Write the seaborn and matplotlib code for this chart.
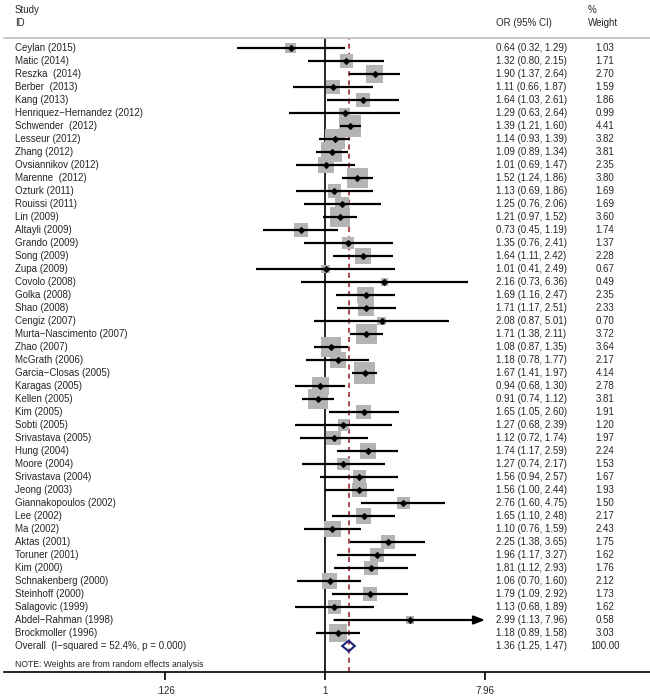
"""
forest plot of pooled odds ratios (random effects)
"""
import numpy as np
import pandas as pd
import seaborn as sns
import matplotlib.pyplot as plt
from matplotlib.ticker import NullLocator
from matplotlib.transforms import blended_transform_factory

sns.set_style("white")
plt.rcParams["font.family"] = ["Liberation Sans", "DejaVu Sans"]

studies = [
    "Ceylan (2015)", "Matic (2014)", "Reszka  (2014)", "Berber  (2013)", "Kang (2013)",
    "Henriquez\u2212Hernandez (2012)", "Schwender  (2012)", "Lesseur (2012)", "Zhang (2012)",
    "Ovsiannikov (2012)", "Marenne  (2012)", "Ozturk (2011)", "Rouissi (2011)", "Lin (2009)",
    "Altayli (2009)", "Grando (2009)", "Song (2009)", "Zupa (2009)", "Covolo (2008)",
    "Golka (2008)", "Shao (2008)", "Cengiz (2007)", "Murta\u2212Nascimento (2007)", "Zhao (2007)",
    "McGrath (2006)", "Garcia\u2212Closas (2005)", "Karagas (2005)", "Kellen (2005)", "Kim (2005)",
    "Sobti (2005)", "Srivastava (2005)", "Hung (2004)", "Moore (2004)", "Srivastava (2004)",
    "Jeong (2003)", "Giannakopoulos (2002)", "Lee (2002)", "Ma (2002)", "Aktas (2001)",
    "Toruner (2001)", "Kim (2000)", "Schnakenberg (2000)", "Steinhoff (2000)",
    "Salagovic (1999)", "Abdel\u2212Rahman (1998)", "Brockmoller (1996)",
]
odds = [0.64, 1.32, 1.90, 1.11, 1.64, 1.29, 1.39, 1.14, 1.09, 1.01, 1.52, 1.13, 1.25, 1.21,
        0.73, 1.35, 1.64, 1.01, 2.16, 1.69, 1.71, 2.08, 1.71, 1.08, 1.18, 1.67, 0.94, 0.91,
        1.65, 1.27, 1.12, 1.74, 1.27, 1.56, 1.56, 2.76, 1.65, 1.10, 2.25, 1.96, 1.81, 1.06,
        1.79, 1.13, 2.99, 1.18]
lower = [0.32, 0.80, 1.37, 0.66, 1.03, 0.63, 1.21, 0.93, 0.89, 0.69, 1.24, 0.69, 0.76, 0.97,
         0.45, 0.76, 1.11, 0.41, 0.73, 1.16, 1.17, 0.87, 1.38, 0.87, 0.78, 1.41, 0.68, 0.74,
         1.05, 0.68, 0.72, 1.17, 0.74, 0.94, 1.00, 1.60, 1.10, 0.76, 1.38, 1.17, 1.12, 0.70,
         1.09, 0.68, 1.13, 0.89]
upper = [1.29, 2.15, 2.64, 1.87, 2.61, 2.64, 1.60, 1.39, 1.34, 1.47, 1.86, 1.86, 2.06, 1.52,
         1.19, 2.41, 2.42, 2.49, 6.36, 2.47, 2.51, 5.01, 2.11, 1.35, 1.77, 1.97, 1.30, 1.12,
         2.60, 2.39, 1.74, 2.59, 2.17, 2.57, 2.44, 4.75, 2.48, 1.59, 3.65, 3.27, 2.93, 1.60,
         2.92, 1.89, 7.96, 1.58]
weights = [1.03, 1.71, 2.70, 1.59, 1.86, 0.99, 4.41, 3.82, 3.81, 2.35, 3.80, 1.69, 1.69, 3.60,
           1.74, 1.37, 2.28, 0.67, 0.49, 2.35, 2.33, 0.70, 3.72, 3.64, 2.17, 4.14, 2.78, 3.81,
           1.91, 1.20, 1.97, 2.24, 1.53, 1.67, 1.93, 1.50, 2.17, 2.43, 1.75, 1.62, 1.76, 2.12,
           1.73, 1.62, 0.58, 3.03]

overall_label = "Overall  (I\u2212squared = 52.4%, p = 0.000)"
overall_or, overall_lo, overall_hi = 1.36, 1.25, 1.47
overall_weight = 100.00

xticks = [0.126, 1, 7.96]
xtick_labels = [".126", "1", "7.96"]

df = pd.DataFrame({"study": studies, "OR": odds, "lo": lower, "hi": upper, "weight": weights})
df["row"] = np.arange(len(df))
n = len(df)

W, H = 650, 699
FS = 7
fig = plt.figure(figsize=(W / 100, H / 100), dpi=100)
ax = fig.add_axes([4 / W, 1 - 672 / H, 646 / W, (672 - 38) / H])
ax.set_xscale("log")
ax.set_xlim(0.01562, 67.4)
ax.set_ylim(n + 2, -0.77)

# reference lines
ax.axvline(1, color="k", lw=1.2, zorder=1)
ax.axvline(overall_or, color="#a3282f", lw=1.2, ls=(0, (3, 2.5)), zorder=1)

# weight boxes, area proportional to weight
sns.scatterplot(data=df, x="OR", y="row", size="weight", sizes=(0, 250.9),
                size_norm=(0, 4.41), marker="s", color="#b4b4b4", linewidth=0,
                legend=False, ax=ax, zorder=2)

# confidence intervals, arrow where CI hits the axis limit
clip = xticks[-1]
capped = df["hi"] >= clip
ax.hlines(df.loc[~capped, "row"], df.loc[~capped, "lo"], df.loc[~capped, "hi"],
          color="k", lw=1.6, zorder=3)
for _, r in df[capped].iterrows():
    ax.annotate("", xy=(clip, r["row"]), xytext=(r["lo"], r["row"]),
                arrowprops=dict(arrowstyle="-|>,head_length=0.65,head_width=0.25",
                                color="k", lw=1.6, shrinkA=0, shrinkB=0), zorder=3)

ax.plot(df["OR"], df["row"], "D", color="k", ms=3.3, mew=0.5, zorder=4)

# overall diamond
h = 0.41
ax.fill([overall_lo, overall_or, overall_hi, overall_or], [n, n - h, n, n + h],
        facecolor="none", edgecolor="#1c2478", lw=1.5, zorder=4)

# text columns
trans = blended_transform_factory(fig.transFigure, ax.transData)
for _, r in df.iterrows():
    ax.text(15 / W, r["row"], r["study"], transform=trans, ha="left", va="center", fontsize=FS)
    ax.text(496 / W, r["row"], f"{r['OR']:.2f} ({r['lo']:.2f}, {r['hi']:.2f})",
            transform=trans, ha="left", va="center", fontsize=FS)
    ax.text(605 / W, r["row"], f"{r['weight']:.2f}", transform=trans,
            ha="center", va="center", fontsize=FS)
ax.text(15 / W, n, overall_label, transform=trans, ha="left", va="center", fontsize=FS)
ax.text(496 / W, n, f"{overall_or:.2f} ({overall_lo:.2f}, {overall_hi:.2f})",
        transform=trans, ha="left", va="center", fontsize=FS)
ax.text(605 / W, n, f"{overall_weight:.2f}", transform=trans, ha="center", va="center", fontsize=FS)
ax.text(15 / W, n + 1.4, "NOTE: Weights are from random effects analysis",
        transform=trans, ha="left", va="center", fontsize=6.2)

# header
fig.text(15 / W, 1 - 10 / H, "Study", ha="left", va="center", fontsize=FS)
fig.text(15 / W, 1 - 23 / H, "ID", ha="left", va="center", fontsize=FS)
fig.text(496 / W, 1 - 23 / H, "OR (95% CI)", ha="left", va="center", fontsize=FS)
fig.text(588 / W, 1 - 10 / H, "%", ha="left", va="center", fontsize=FS)
fig.text(588 / W, 1 - 23 / H, "Weight", ha="left", va="center", fontsize=FS)

# axes styling
ax.set_xticks(xticks)
ax.set_xticklabels(xtick_labels)
ax.xaxis.set_minor_locator(NullLocator())
ax.set_yticks([])
ax.set_xlabel("")
ax.set_ylabel("")
ax.tick_params(axis="x", direction="out", length=6, width=1.2, labelsize=FS, pad=4,
               bottom=True, color="k")
for side in ("left", "right"):
    ax.spines[side].set_visible(False)
ax.spines["top"].set_color("#bdbdbd")
ax.spines["top"].set_linewidth(1.2)
ax.spines["bottom"].set_color("k")
ax.spines["bottom"].set_linewidth(1.2)

fig.savefig("out.png", dpi=100)
plt.close()
